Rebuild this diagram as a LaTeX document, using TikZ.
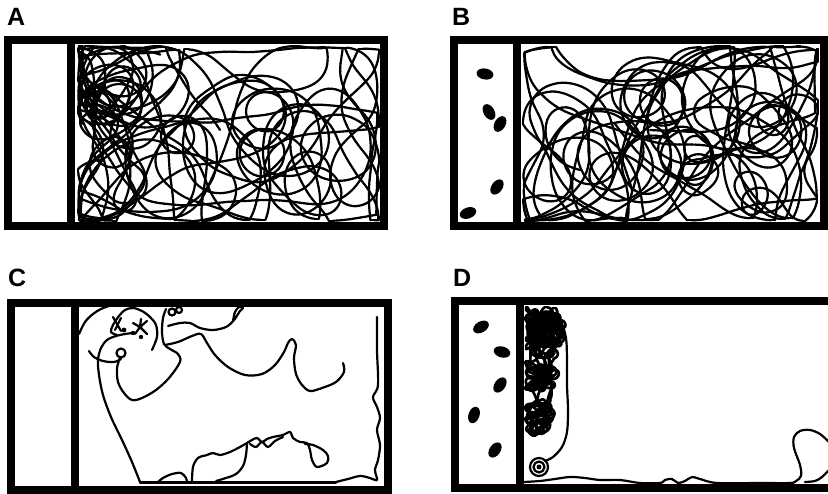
\documentclass[tikz,border=0pt]{standalone}
\usepackage{fontspec}
\newfontfamily\lblfont{Liberation Sans}
\tikzset{
  frame/.style={line width=8pt, line join=miter},
  divider/.style={line width=8pt},
  trk/.style={line width=2.2pt, line cap=round, line join=round},
  strk/.style={trk, smooth, tension=0.55},
  lbl/.style={font=\lblfont\bfseries\fontsize{25}{25}\selectfont, anchor=base west, inner sep=0pt},
  oval/.style={fill=black},
}
% correlated random walk with wall following and soft steering
% #1 seed #2 x0 #3 y0 #4 xmin #5 xmax #6 ymin #7 ymax (hard walls) #8 steps
% parameters: \rwS step, \rwA noise, \rwM max turn, \rwC persistence, \rwK steering,
% soft box \sxa \sxb \sya \syb
\newcommand\rwalk[8]{%
  \pgfmathsetseed{#1}%
  \xdef\wx{#2}\xdef\wy{#3}%
  \pgfmathsetmacro\tmp{360*rnd}\xdef\wt{\tmp}\xdef\ww{0}%
  \pgfmathsetmacro\cx{(\sxa+\sxb)/2}\pgfmathsetmacro\cy{(\sya+\syb)/2}%
  \foreach \i in {1,...,#8}{%
    \pgfmathsetmacro\nw{max(-\rwM,min(\rwM,\rwC*\ww+\rwA*rand))}%
    \def\st{0}%
    \pgfmathsetmacro\out{((\wx<\sxa) || (\wx>\sxb) || (\wy<\sya) || (\wy>\syb)) ? 1 : 0}%
    \ifdim\out pt>0.5pt
      \pgfmathsetmacro\df{mod(atan2(\cy-\wy,\cx-\wx)-\wt+900,360)-180}%
      \pgfmathsetmacro\st{\rwK*((\df>0)-(\df<0))}%
      \pgfmathsetmacro\nw{0.93*\nw}%
    \fi
    \pgfmathsetmacro\nt{mod(\wt+\nw+\st+720,360)}%
    \pgfmathsetmacro\nx{\wx+\rwS*cos(\nt)}%
    \pgfmathsetmacro\ny{\wy+\rwS*sin(\nt)}%
    \pgfmathsetmacro\fx{((\nx<#4) || (\nx>#5)) ? 1 : 0}%
    \pgfmathsetmacro\fy{((\ny<#6) || (\ny>#7)) ? 1 : 0}%
    \pgfmathsetmacro\nt{(\fx>0.5) ? 90+180*(sin(\nt)<0) : \nt}%
    \pgfmathsetmacro\nt{(\fy>0.5) ? 180*(cos(\nt)<0) : \nt}%
    \pgfmathsetmacro\nw{(\fx+\fy>0.5) ? 0.3*rand*\rwM : \nw}%
    \pgfmathsetmacro\nx{max(#4,min(#5,\wx+\rwS*cos(\nt)))}%
    \pgfmathsetmacro\ny{max(#6,min(#7,\wy+\rwS*sin(\nt)))}%
    \draw[trk] (\wx,\wy) -- (\nx,\ny);%
    \xdef\wx{\nx}\xdef\wy{\ny}\xdef\wt{\nt}\xdef\ww{\nw}%
  }%
}
\begin{document}
\begin{tikzpicture}[x=1pt,y=-1pt]
\useasboundingbox (0,0) rectangle (828,494);
\fill[white] (0,0) rectangle (828,494);

% ---------------- labels
\node[lbl] (labA) at (7,26) {A};
\node[lbl] (labB) at (452,26) {B};
\node[lbl] (labC) at (8,287) {C};
\node[lbl] (labD) at (453,287) {D};

% ---------------- Panel A tracks
\def\rwS{4}\def\rwA{2}\def\rwM{14}\def\rwC{0.985}\def\rwK{3}
\def\sxa{95}\def\sxb{362}\def\sya{60}\def\syb{206}
\rwalk{11}{220}{130}{78}{379}{46}{221}{2800}
\def\rwS{3}\def\rwA{3}\def\rwM{16}\def\rwC{0.98}\def\rwK{6}
\def\sxa{82}\def\sxb{140}\def\sya{100}\def\syb{212}
\rwalk{5}{100}{160}{78}{379}{46}{221}{600}

% ---------------- Panel B tracks
\def\rwS{4}\def\rwA{1.6}\def\rwM{11}\def\rwC{0.985}\def\rwK{3}
\def\sxa{538}\def\sxb{803}\def\sya{60}\def\syb{206}
\rwalk{23}{650}{130}{523}{818}{46}{221}{2100}
\def\rwS{4}\def\rwA{1.8}\def\rwM{12}\def\rwC{0.985}\def\rwK{4}
\def\sxa{528}\def\sxb{650}\def\sya{120}\def\syb{215}
\rwalk{41}{580}{170}{523}{818}{46}{221}{550}
\def\rwS{3}\def\rwA{2.5}\def\rwM{14}\def\rwC{0.98}\def\rwK{6}
\def\sxa{700}\def\sxb{810}\def\sya{90}\def\syb{212}
\rwalk{31}{760}{150}{523}{818}{46}{221}{500}

% ---------------- Panel C tracks
\draw[strk] plot coordinates {(79,334) (85,322) (93,314) (101,309) (109,306)};
\draw[strk] plot coordinates {(140,482) (132,462) (122,440) (111,417) (103,395) (99,375) (98,360) (101,348) (107,340) (116,336) (125,334) (133,333)};
\draw[strk] plot coordinates {(89,351) (94,357) (103,361) (114,362) (121,359)};
\draw[trk] (121,353) circle[radius=4.5pt];
\draw[strk] plot coordinates {(120,358) (117,368) (118,382) (124,393) (132,400) (142,398) (156,390) (169,378) (180,362) (178,354) (170,349) (164,344) (162,332) (163,318) (166,309)};
\draw[strk] plot coordinates {(152,350) (157,337) (156,325) (150,317) (142,311) (133,308) (125,310) (119,316) (113,325) (111,332) (117,335)};
\draw[trk] (113,317) -- (121,331) (121,318) -- (115,330);
\draw[trk] (140,327) -- (133,323) (140,327) -- (135,334) (140,327) -- (147,321) (140,327) -- (147,334) (140,327) -- (141,319);
\fill (124,330) circle[radius=2.4pt] (133,333) circle[radius=2.2pt] (141,337) circle[radius=2.2pt] (140,327) circle[radius=2.4pt];
\draw[trk] (172,312) circle[radius=3.5pt] (179,310) circle[radius=3pt];
\draw[strk] plot coordinates {(165,345) (178,342) (192,336) (201,334) (207,343) (215,355) (228,367) (245,375) (262,374) (275,365) (284,352) (288,343) (292,339) (296,345) (294,358) (296,374) (302,385) (310,391) (322,388) (336,382) (344,372) (343,363)};
\draw[strk] plot coordinates {(168,326) (180,323) (190,323) (200,328) (213,330) (226,327) (234,320) (240,311) (243,308) (239,307) (235,312) (233,321)};
\draw[strk] plot coordinates {(377,317) (377,350) (378,385) (373,397) (377,407) (380,418) (377,430) (380,445) (378,460) (375,470) (377,480) (370,478) (360,476) (348,479) (336,482)};
\draw[trk] (336,482.5) -- (140,482.5);
\draw[strk] plot coordinates {(192,482) (193,467) (198,458) (207,455) (213,453) (220,455) (230,452) (240,447) (247,443) (252,440) (257,438) (262,442) (267,439) (273,437) (283,435) (290,432) (293,438) (300,442) (307,443) (310,450) (312,460) (317,467) (327,463) (328,456) (323,450) (313,445) (305,444)};
\draw[strk] plot coordinates {(247,443) (246,455) (243,466) (236,474) (226,478) (216,481)};
\draw[strk] plot coordinates {(250,444) (256,447) (262,442) (268,447) (275,441) (283,437)};
\draw[strk] plot coordinates {(158,482) (163,478) (172,474) (181,473) (186,478) (187,482)};

% ---------------- Panel D tracks
\begin{scope}[trk/.append style={line width=2.6pt}]
\def\rwS{1.8}\def\rwA{8}\def\rwM{30}\def\rwC{0.97}\def\rwK{25}
\def\sxa{530}\def\sxb{559}\def\sya{313}\def\syb{346}
\rwalk{7}{540}{325}{525}{600}{307}{482}{1300}
\def\sxa{530}\def\sxb{551}\def\sya{350}\def\syb{400}
\rwalk{8}{538}{375}{525}{600}{307}{482}{700}
\def\sxa{529}\def\sxb{546}\def\sya{403}\def\syb{432}
\rwalk{9}{536}{418}{525}{600}{307}{482}{450}
\end{scope}
\draw[strk] plot coordinates {(552,311) (561,322) (566,338) (567,360) (567,385) (568,410) (567,432) (562,447) (553,457) (545,461)};
\draw[trk] (539,467) circle[radius=9pt] (539,467) circle[radius=5.5pt];
\fill (539,467) circle[radius=2.5pt];
\draw[strk] plot coordinates {(524,482) (540,481) (555,479) (570,477) (585,478) (600,480) (620,480) (640,483) (660,483) (665,480) (672,479) (678,483) (685,481) (692,477) (700,479) (717,483) (760,483) (790,483) (796,481) (801,476) (800,465) (794,448) (794,437) (800,431) (810,430) (820,434) (829,442)};
\draw[strk] plot coordinates {(805,482) (815,481) (822,477) (829,470)};

% ---------------- frames
\draw[frame] (8,40) rectangle (384,226);
\draw[divider] (71,36) -- (71,230);
\draw[frame] (454,40) rectangle (824,226);
\draw[divider] (517,36) -- (517,230);
\draw[frame] (11,303) rectangle (388,490);
\draw[divider] (75,299) -- (75,494);
\draw[frame] (829,301) -- (455,301) -- (455,488) -- (829,488);
\draw[divider] (520,297) -- (520,492);

% ---------------- ovals (B)
\fill[oval] (485,74) ellipse[x radius=8.5pt, y radius=5.5pt, rotate=-10];
\fill[oval] (489,112) ellipse[x radius=8.5pt, y radius=5.5pt, rotate=-60];
\fill[oval] (500,124) ellipse[x radius=8.5pt, y radius=5.5pt, rotate=60];
\fill[oval] (497,187) ellipse[x radius=8.5pt, y radius=5.5pt, rotate=55];
\fill[oval] (468,213) ellipse[x radius=8.5pt, y radius=5.5pt, rotate=20];
% ---------------- ovals (D)
\fill[oval] (481,327) ellipse[x radius=8.5pt, y radius=5.5pt, rotate=30];
\fill[oval] (502,352) ellipse[x radius=8.5pt, y radius=5.5pt, rotate=-15];
\fill[oval] (500,385) ellipse[x radius=8.5pt, y radius=5.5pt, rotate=55];
\fill[oval] (474,415) ellipse[x radius=8.5pt, y radius=5.5pt, rotate=70];
\fill[oval] (495,450) ellipse[x radius=8.5pt, y radius=5.5pt, rotate=55];
\end{tikzpicture}
\end{document}
